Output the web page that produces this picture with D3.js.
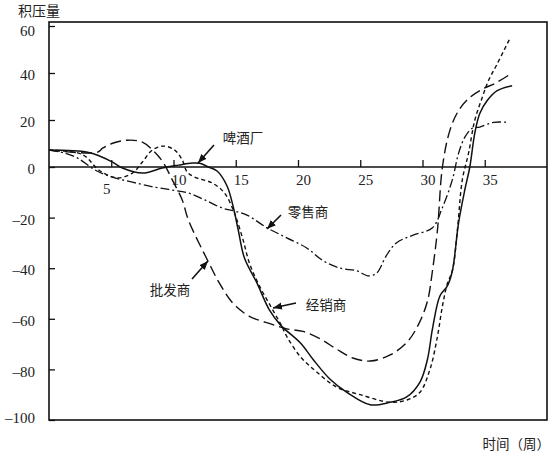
<!DOCTYPE html>
<html><head><meta charset="utf-8">
<script src="https://cdn.jsdelivr.net/npm/d3@7"></script>
<style>body{margin:0;background:#fff}svg{display:block}</style>
</head><body>
<script>
// ---- data ----
const weeksBrewery = [0,3.1,4.1,5.1,5.9,7.5,9.1,10.4,11.5,12.1,12.8,13.5,14.3,14.8,15.2,15.7,16.7,17.7,18.6,20.2,21.2,22.6,23.9,25.8,27.4,28.7,29.8,30.4,30.8,31.4,32,32.4,32.9,33.4,33.8,34.2,34.6,35.2,36,37.2];
const valuesBrewery = [7.2,6.3,4.6,2.1,-0.4,-2.4,-0.4,0.8,1.7,1.6,0,-1.6,-7.5,-15.8,-24.9,-36,-45.8,-56.5,-62.5,-69.6,-76,-84,-89,-94,-93,-91,-85,-76,-64,-51,-47,-41,-22,-9,0,14.4,22.8,28.3,32.5,34.6];

const weeksDistributor = [0,2.3,3,4,5.5,6.7,7.5,8.3,9.2,10.1,10.7,11.1,11.7,13.1,14.1,14.8,15.1,15.6,16.1,16.9,17.8,18.6,19.1,20.2,21.5,23.1,25,27.4,28.8,29.8,30.6,31.2,31.6,32,32.4,32.8,33.2,33.7,34.2,34.8,35.3,36,37];
const valuesDistributor = [7.2,6,4.2,-1.2,-4.3,-2.4,2.1,7.2,8.9,7.2,3,-2,-4,-6.3,-10.3,-17,-21,-29,-38,-47,-55,-62,-67,-75,-81,-87,-90,-93,-92,-89,-80,-67,-55,-46,-41,-25,-5,5.9,19.9,29.6,36.8,43.9,54.5];

const weeksWholesaler = [0,3.9,4.3,5.1,6.3,7.5,8.5,9.2,9.9,10.7,11.2,12.8,13.7,14.8,16.1,17.8,19.1,20.4,21.8,23.1,24.4,25.8,27.4,28.8,29.7,30.4,30.8,31.2,31.6,32.2,32.9,33.8,34.9,35.8,37.2];
const valuesWholesaler = [7.2,6.3,8,10.1,11.4,10.6,6.3,1.7,-5.1,-13,-21,-37.5,-46,-54,-59,-62,-64,-65,-68,-72,-75.5,-76.7,-74.3,-69,-62,-53,-41,-25,0,15.6,24,29.6,33.4,35.5,40];

const weeksRetailer = [0,1.3,2.3,3.7,5.1,6.7,8.5,9.9,11.2,12.5,13.9,14.9,15.9,17.5,19.1,20.7,22,23.4,24.7,25.6,26.3,27.1,27.9,29.2,30.8,31.6,32.4,32.9,33.4,34,34.6,35.7,36.9];
const valuesRetailer = [7.2,5.9,3.8,-1.2,-4,-6,-8,-9.1,-10.3,-13,-16.2,-17.4,-19,-24,-28,-32,-37,-40,-41,-43,-42,-35,-30,-27,-24,-16,-5,5.9,12.7,16.5,17,19,19];

const xTicks = [5,10,15,20,25,30,35];
const yTicks = [60,40,20,0,-20,-40,-60,-80,-100];
const seriesNames = ["啤酒厂","经销商","批发商","零售商"];
const yTitle = "积压量";
const xTitle = "时间（周）";

// ---- chart ----
(function(){
const W = 560, H = 453;
const svg = d3.select("body").append("svg").attr("width", W).attr("height", H);
const defs = svg.append("defs");
defs.append("marker").attr("id","arr").attr("viewBox","0 0 10 10").attr("refX",10).attr("refY",5)
  .attr("markerWidth",9).attr("markerHeight",9).attr("markerUnits","userSpaceOnUse").attr("orient","auto")
  .append("path").attr("d","M0,1 L10,5 L0,9 Z").attr("fill","#111");

const mLeft = 49, mRight = 547, mTop = 22, mBottom = 420;
const x = d3.scaleLinear().domain([0, 40]).range([mLeft, mRight]);
const y = d3.scaleLinear().domain([-100, 0, 60]).range([mBottom, 167, 26]);

const serif = "'Liberation Serif','Times New Roman',serif";
const cjk = "'Noto Sans CJK SC','Noto Sans CJK JP',sans-serif";

// frame
svg.append("rect").attr("x", mLeft).attr("y", mTop).attr("width", mRight-mLeft).attr("height", mBottom-mTop)
  .attr("fill","none").attr("stroke","#111").attr("stroke-width",1.6);

// y axis (ticks inward)
const yAxis = d3.axisLeft(y).tickValues(yTicks).tickSize(-6).tickPadding(14)
  .tickFormat(d => d < 0 ? "–" + Math.abs(d) : d);
const gy = svg.append("g").attr("transform", `translate(${mLeft},0)`).call(yAxis);
gy.select(".domain").remove();
gy.selectAll("line").attr("stroke","#111").attr("stroke-width",1.3);
gy.selectAll("text").attr("font-family", serif).attr("font-size", 15).attr("fill","#222")
  .attr("dy", d => d === 60 ? "0.62em" : (d === -100 ? "0.15em" : "0.45em"));

// x axis on zero line, ticks upward
const xAxis = d3.axisBottom(x).tickValues(xTicks).tickSize(-7).tickPadding(7).tickFormat(d3.format("d"));
const gx = svg.append("g").attr("transform", `translate(0,${y(0)})`).call(xAxis);
gx.select(".domain").remove();
gx.selectAll("line").attr("stroke","#111").attr("stroke-width",1.3);
gx.selectAll("text").attr("font-family", serif).attr("font-size", 15).attr("fill","#222")
  .attr("dx", d => d === 5 ? -5 : 5).attr("dy", d => d === 5 ? "1.3em" : "0.71em");
svg.append("line").attr("x1", mLeft).attr("x2", mRight).attr("y1", y(0)).attr("y2", y(0))
  .attr("stroke","#111").attr("stroke-width",1.5);

// series
const line = d3.line().x(d => x(d[0])).y(d => y(d[1])).curve(d3.curveCatmullRom.alpha(0.5));
const series = [
  {w: weeksBrewery, v: valuesBrewery, dash: null, sw: 1.5},
  {w: weeksDistributor, v: valuesDistributor, dash: "4,3", sw: 1.4},
  {w: weeksWholesaler, v: valuesWholesaler, dash: "11,5", sw: 1.4},
  {w: weeksRetailer, v: valuesRetailer, dash: "9,3,2,3", sw: 1.3}
];
series.forEach(s => {
  svg.append("path").datum(d3.zip(s.w, s.v)).attr("d", line)
    .attr("fill","none").attr("stroke","#111").attr("stroke-width", s.sw)
    .attr("stroke-dasharray", s.dash);
});

// annotations
function label(t, cx, cy) {
  svg.append("text").attr("x", cx).attr("y", cy).attr("text-anchor","middle").attr("dominant-baseline","central")
    .attr("font-family", cjk).attr("font-size", 13.5).attr("fill","#222").text(t);
}
function arrow(x1,y1,x2,y2) {
  svg.append("line").attr("x1",x1).attr("y1",y1).attr("x2",x2).attr("y2",y2)
    .attr("stroke","#111").attr("stroke-width",1.6).attr("marker-end","url(#arr)");
}
label(seriesNames[0], 243, 137); arrow(214, 145, 198, 163);
label(seriesNames[3], 308, 211); arrow(281, 215, 267, 229);
label(seriesNames[2], 170, 289); arrow(192, 279, 208, 261);
label(seriesNames[1], 326, 304); arrow(296, 303, 273, 308);

// titles
svg.append("text").attr("x", 18).attr("y", 10).attr("dominant-baseline","central")
  .attr("font-family", cjk).attr("font-size", 14).attr("fill","#222").text(yTitle);
svg.append("text").attr("x", 550).attr("y", 443).attr("text-anchor","end").attr("dominant-baseline","central")
  .attr("font-family", cjk).attr("font-size", 13.5).attr("fill","#222").text(xTitle);
})();
</script>
</body></html>
